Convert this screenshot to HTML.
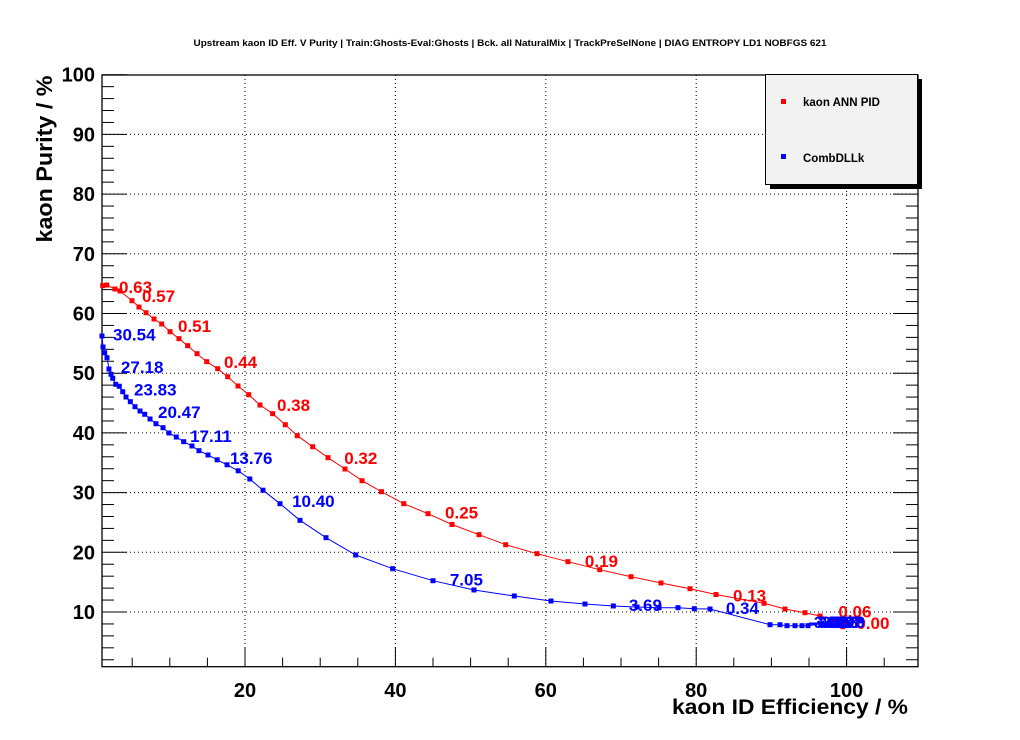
<!DOCTYPE html>
<html><head><meta charset="utf-8"><style>
html,body{margin:0;padding:0;background:#fff;}
svg{display:block;font-family:"Liberation Sans",Arial,sans-serif;}
</style></head><body>
<svg id="chart" width="1020" height="740" viewBox="0 0 1020 740" xmlns="http://www.w3.org/2000/svg">
<rect width="1020" height="740" fill="#fff"/>
<text x="510" y="46" text-anchor="middle" font-size="9.5" font-weight="bold" textLength="633" lengthAdjust="spacingAndGlyphs">Upstream kaon ID Eff. V Purity | Train:Ghosts-Eval:Ghosts | Bck. all NaturalMix | TrackPreSelNone | DIAG ENTROPY LD1 NOBFGS 621</text>
<g id="grid"></g>
<g id="axes"></g>
<g id="series"></g>
<g id="labels"></g>
<text x="908" y="714" text-anchor="end" font-size="21" font-weight="bold" textLength="236" lengthAdjust="spacingAndGlyphs">kaon ID Efficiency / %</text>
<text transform="translate(52,159) rotate(-90)" text-anchor="middle" font-size="22" font-weight="bold" textLength="167" lengthAdjust="spacingAndGlyphs">kaon Purity / %</text>
<g>
<rect x="770" y="79" width="152" height="110" fill="#000"/>
<rect x="765.5" y="74.5" width="152" height="110" fill="#f2f2f2" stroke="#000" stroke-width="1"/>
<rect x="781" y="99" width="5" height="5" fill="#ff0000"/>
<text x="803" y="106" font-size="11.5" font-weight="bold">kaon ANN PID</text>
<rect x="781" y="154" width="5" height="5" fill="#0000ff"/>
<text x="803" y="162" font-size="11.5" font-weight="bold">CombDLLk</text>
</g>
</svg>
<script>
const xTicks = [20, 40, 60, 80, 100];
const yTicks = [10, 20, 30, 40, 50, 60, 70, 80, 90, 100];
const annX = [1.08,1.61,2.71,3.38,4.97,5.90,6.84,7.90,8.92,10.03,11.22,12.38,13.62,14.91,16.37,17.70,19.07,20.49,21.99,23.68,25.36,26.95,29.00,31.04,33.30,35.56,38.15,41.12,44.34,47.53,51.12,54.67,58.83,62.95,67.17,71.33,75.32,79.18,82.63,89.02,91.81,94.47,96.47,98.07,99.13,99.53,99.8,99.5];
const annY = [64.66,64.77,64.10,63.77,62.14,61.09,60.13,59.08,58.24,56.95,55.78,54.61,53.27,51.93,50.75,49.41,47.86,46.40,44.67,43.22,41.37,39.53,37.69,35.85,33.95,31.99,30.15,28.14,26.47,24.66,22.95,21.27,19.77,18.43,17.09,15.91,14.86,13.90,12.93,11.46,10.50,9.88,9.33,8.83,8.66,8.33,8.0,7.54];
const dllX = [0.98,1.12,1.34,1.65,1.91,2.18,2.41,2.81,3.28,3.74,4.18,4.75,5.37,6.04,6.66,7.37,8.16,9.10,9.89,10.86,11.85,12.95,13.88,15.08,16.30,17.61,19.10,20.64,22.39,24.65,27.31,30.77,34.72,39.64,45.00,50.45,55.81,60.69,65.21,68.98,72.13,75.05,77.58,79.75,81.84,89.82,91.14,92.07,93.14,94.07,94.87,97.8,99.8,101.8];
const dllY = [56.23,54.39,53.43,52.60,50.70,49.82,49.15,48.14,47.81,46.90,46.01,45.23,44.39,43.67,43.12,42.33,41.54,40.87,39.98,39.31,38.53,37.81,37.02,36.30,35.49,34.66,33.65,32.28,30.40,28.14,25.36,22.45,19.55,17.25,15.24,13.69,12.68,11.84,11.34,11.01,10.84,10.72,10.72,10.55,10.50,7.87,7.87,7.71,7.71,7.71,7.71,8.3,8.6,8.5];
const annLabels = ["0.63","0.57","0.51","0.44","0.38","0.32","0.25","0.19","0.13","0.06","0.00"];
const annLabelX = [3.24,6.30,11.09,17.2,24.25,33.2,46.6,65.2,84.9,98.9,101.3];
const annLabelY = [63.4,61.9,56.9,50.9,43.7,34.8,25.7,17.5,11.8,9.1,7.15];
const dllLabels = ["30.54","27.18","23.83","20.47","17.11","13.76","10.40","7.05","3.69","0.34","-3.02","-3.36","-3.69","-4.03","-4.37","-4.70"];
const dllLabelX = [2.45,3.5,5.24,8.43,12.7,18.0,26.26,47.24,71.04,83.94,94.9,95.4,95.9,96.4,96.9,97.3];
const dllLabelY = [55.5,50.0,46.3,42.5,38.5,34.8,27.6,14.4,10.2,9.7,7.3,7.3,7.3,7.3,7.3,7.3];

const NS = "http://www.w3.org/2000/svg";
const L = 102, R = 918, T = 75, B = 666.7;
const x0 = 94.6, xs = 7.52, y0 = 671.7, ys = 5.97;
function sx(v){ return x0 + v*xs; }
function sy(v){ return y0 - v*ys; }
function mk(tag, attrs, parent){
  const e = document.createElementNS(NS, tag);
  for (const k in attrs) e.setAttribute(k, attrs[k]);
  parent.appendChild(e);
  return e;
}
const grid = document.getElementById('grid');
const axes = document.getElementById('axes');
const series = document.getElementById('series');
const labels = document.getElementById('labels');

xTicks.forEach(v => {
  const l = mk('line', {x1:sx(v), x2:sx(v), y1:T, y2:B, stroke:'#000', 'stroke-width':1, 'stroke-dasharray':'1,3'}, grid);
  
  
});
yTicks.forEach(v => {
  if (v >= 100) return;
  const l = mk('line', {x1:L, x2:R, y1:sy(v), y2:sy(v), stroke:'#000', 'stroke-width':1, 'stroke-dasharray':'1,3'}, grid);
  
  
});

const fr = mk('rect', {x:L, y:T, width:R-L, height:B-T, fill:'none', stroke:'#000', 'stroke-width':1.3}, axes);



for (let v = 5; sx(v) < R; v += 5) {
  const major = v % 20 === 0;
  const len = major ? 19 : 9;
  const t = mk('line', {x1:sx(v), x2:sx(v), y1:B, y2:B-len, stroke:'#000', 'stroke-width':1}, axes);
  
  
}
xTicks.forEach(v => {
  const t = mk('text', {x:sx(v), y:697, 'text-anchor':'middle', 'font-size':20, 'font-weight':'bold'}, axes);
  t.textContent = v;
  
  
});
for (let v = 2; v <= 100; v += 2) {
  const major = v % 10 === 0;
  const len = major ? 25 : 12;
  const t = mk('line', {x1:L, x2:L+len, y1:sy(v), y2:sy(v), stroke:'#000', 'stroke-width':1}, axes);
  
  
  const t2 = mk('line', {x1:R, x2:R-len, y1:sy(v), y2:sy(v), stroke:'#000', 'stroke-width':1}, axes);
  
  
}
yTicks.forEach(v => {
  const t = mk('text', {x:95, y:sy(v)+7, 'text-anchor':'end', 'font-size':20, 'font-weight':'bold'}, axes);
  t.textContent = v;
  
  
});

function drawSeries(xs_, ys_, color, name){
  const g = mk('g', {}, series);
  
  
  const pts = xs_.map((v,i) => sx(v).toFixed(1) + ',' + sy(ys_[i]).toFixed(1)).join(' ');
  const pl = mk('polyline', {points:pts, fill:'none', stroke:color, 'stroke-width':1}, g);
  
  
  xs_.forEach((v,i) => {
    const r = mk('rect', {x:sx(v)-2.5, y:sy(ys_[i])-2.5, width:5, height:5, fill:color}, g);
    
    
  });
}
drawSeries(annX, annY, '#ff0000', 'kaon-ann-pid');
drawSeries(dllX, dllY, '#0000ff', 'comb-dllk');

function drawLabels(txt, lx, ly, color, name){
  txt.forEach((s,i) => {
    const t = mk('text', {x:sx(lx[i]), y:sy(ly[i]), fill:color, 'font-size':17, 'font-weight':'bold'}, labels);
    t.textContent = s;
    
    
  });
}
drawLabels(annLabels, annLabelX, annLabelY, '#ff0000', 'ann-cut-label');
drawLabels(dllLabels, dllLabelX, dllLabelY, '#0000ff', 'dllk-cut-label');
</script>
</body></html>
